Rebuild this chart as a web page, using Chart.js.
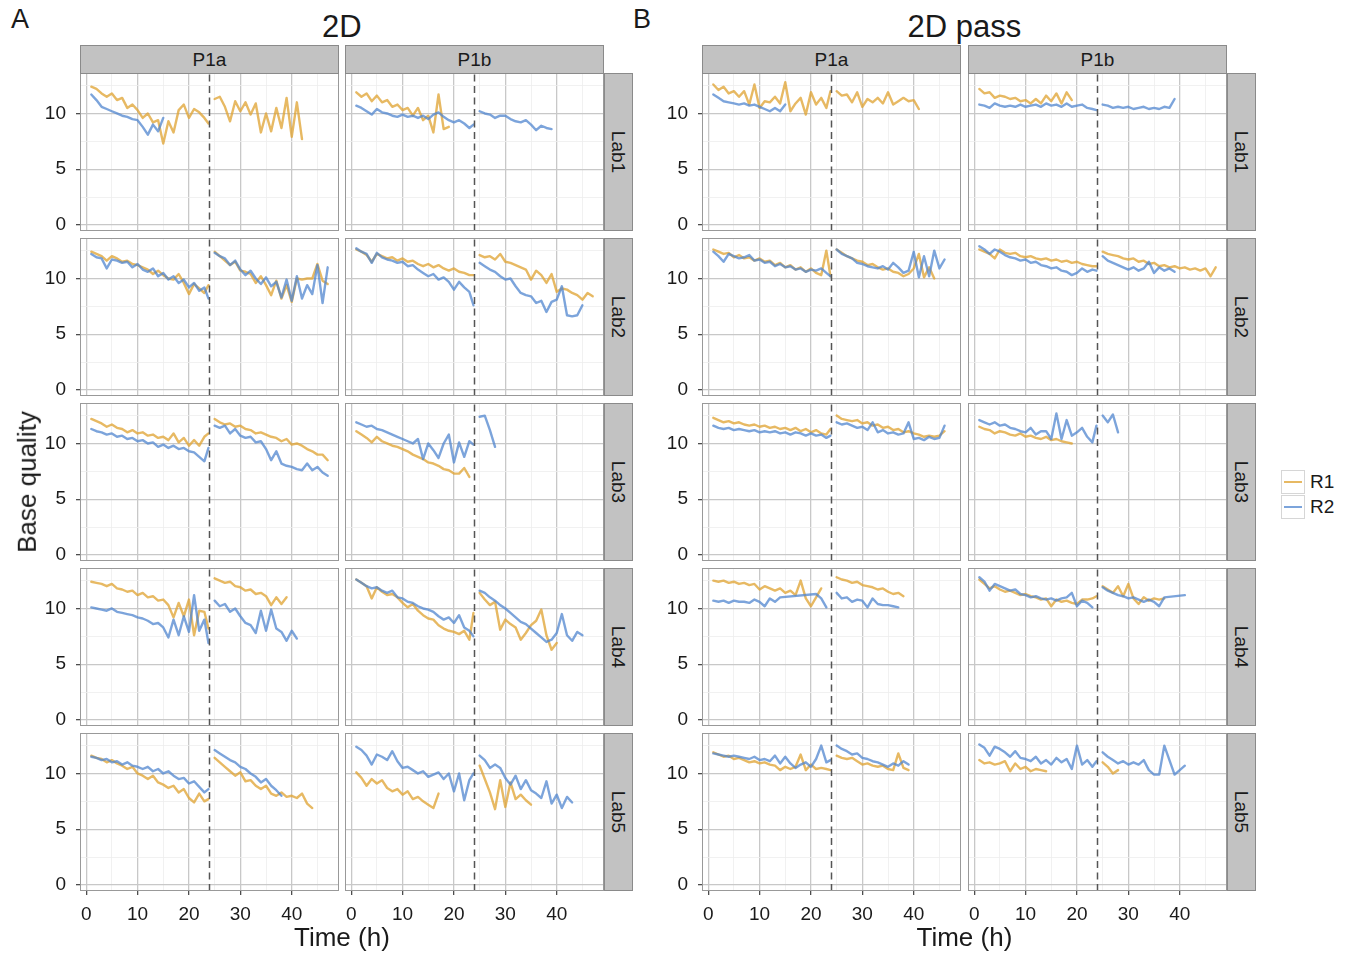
<!DOCTYPE html>
<html>
<head>
<meta charset="utf-8">
<title>Base quality over time</title>
<script src="https://cdn.jsdelivr.net/npm/chart.js@4.4.1/dist/chart.umd.min.js"></script>
<style>
  body { margin: 0; background: #ffffff; font-family: "Liberation Sans", Arial, Helvetica, sans-serif; color: #1a1a1a; }
  #page { position: relative; width: 1349px; height: 953px; overflow: hidden; background: #ffffff; }
  #page canvas { position: absolute; }
  .txt { position: absolute; white-space: nowrap; line-height: 1; }
  .strip { position: absolute; box-sizing: border-box; background: #c2c2c2; border: 1px solid #8a8a8a;
           display: flex; align-items: center; justify-content: center; font-size: 19px; color: #1a1a1a; }
  .strip.v span { display: block; transform: rotate(90deg); white-space: nowrap; }
  .legend-row { position: absolute; left: 1281px; height: 24px; display: flex; align-items: center; }
  .legend-key { width: 24px; height: 24px; box-sizing: border-box; border: 1px solid #d6d6d6; position: relative; background: #fff; }
  .legend-key i { position: absolute; left: 2px; right: 2px; top: 10px; height: 2px; }
  .legend-row span { font-size: 19px; margin-left: 5px; }
</style>
</head>
<body>
<div id="page"></div>
<script>
// ---- sampling grid (hours since start) ----
const hoursBefore = [1, 2, 3, 4, 5, 6, 7, 8, 9, 10, 11, 12, 13, 14, 15, 16, 17, 18, 19, 20, 21, 22, 23, 23.8];
const hoursAfter = [25, 26, 27, 28, 29, 30, 31, 32, 33, 34, 35, 36, 37, 38, 39, 40, 41, 42, 43, 44, 45, 46, 47, 48];
const breakHour = 24;

// ---- categories ----
const panelLetters = ['A', 'B'];
const panelTitles = ['2D', '2D pass'];
const runs = ['P1a', 'P1b'];
const labs = ['Lab1', 'Lab2', 'Lab3', 'Lab4', 'Lab5'];
const readNames = ['R1', 'R2'];

// ---- axis breaks ----
const xBreaks = [0, 5, 10, 15, 20, 25, 30, 35, 40, 45];
const xLabels = [0, 10, 20, 30, 40];
const yBreaks = [0, 2.5, 5, 7.5, 10, 12.5];
const yLabels = [0, 5, 10];
const xRange = [-1.2, 49.2];
const yRange = [-0.54, 13.63];

// ---- base quality per lab: [before restart (hoursBefore), after restart (hoursAfter)] ----
const A_P1a_R1 = [
  [[12.4,12.2,11.8,11.5,11.8,11.2,11.4,10.5,10.8,10.3,9.6,10.0,9.2,9.4,7.3,9.3,8.3,10.3,10.8,9.6,10.4,10.1,9.6,9.1],
   [11.3,11.5,10.6,9.3,11.1,10.2,11.0,9.9,10.9,8.3,10.0,8.4,10.5,8.7,11.4,7.9,11.0,7.7]],
  [[12.4,12.2,12.0,11.6,12.0,11.8,11.5,11.6,11.3,11.2,11.0,10.8,10.4,10.7,10.3,10.0,9.9,10.4,9.6,8.6,9.5,9.1,8.7,9.4],
   [12.4,12.0,11.6,11.2,11.5,10.7,10.6,10.4,9.6,10.2,9.4,8.5,9.8,8.2,9.4,7.9,10.0,9.9,10.0,10.0,11.3,9.8,9.5]],
  [[12.2,12.0,11.8,11.5,11.7,11.4,11.3,11.0,11.2,10.9,11.0,10.7,10.8,10.5,10.6,10.3,10.9,10.1,10.5,9.8,10.3,9.8,10.6,10.9],
   [12.2,11.9,11.7,11.8,11.5,11.6,11.3,11.2,10.9,11.0,10.8,10.6,10.5,10.2,10.4,9.9,10.0,9.8,9.5,9.3,9.0,9.0,8.5]],
  [[12.4,12.3,12.2,12.0,12.2,11.8,11.7,11.5,11.6,11.2,11.4,11.0,11.1,10.7,10.8,10.3,9.2,10.5,9.3,10.8,7.6,9.8,9.7,8.2],
   [12.7,12.5,12.3,12.4,12.0,11.9,11.6,11.7,11.3,11.4,11.1,10.3,11.0,10.4,11.0]],
  [[11.6,11.4,11.3,11.0,11.2,10.9,10.7,10.4,10.6,10.0,9.8,9.5,9.8,9.2,9.0,8.7,8.9,8.3,8.6,7.8,7.4,8.2,7.5,7.7],
   [11.4,11.0,10.6,10.2,9.8,10.1,9.3,9.4,8.9,8.6,8.9,8.2,8.0,8.3,7.9,8.0,7.8,8.2,7.3,6.9]]
];
const A_P1a_R2 = [
  [[11.7,11.2,10.6,10.4,10.2,10.0,9.8,9.7,9.5,9.4,8.8,8.1,9.0,8.4,9.6], []],
  [[12.2,11.9,11.8,10.9,11.7,11.6,11.4,11.5,11.0,11.3,10.8,10.6,10.9,10.2,10.5,9.9,10.2,9.6,9.9,9.2,9.6,8.9,9.2,8.2],
   [12.3,12.0,11.8,11.2,11.6,10.8,10.3,10.7,10.0,9.5,10.1,9.3,9.7,8.3,9.9,8.0,10.2,8.2,9.4,8.6,11.2,7.8,11.0]],
  [[11.3,11.1,11.0,10.8,10.9,10.6,10.7,10.4,10.5,10.2,10.3,10.0,10.1,9.7,9.9,9.6,9.8,9.5,9.6,9.3,9.2,8.8,8.4,9.6],
   [11.6,11.4,11.6,10.9,11.3,10.7,10.5,10.6,10.1,10.2,9.5,8.5,9.3,8.2,8.0,7.9,7.7,7.6,8.2,7.6,7.9,7.4,7.1]],
  [[10.1,10.0,9.9,9.8,10.0,9.7,9.6,9.5,9.4,9.2,9.1,8.9,8.6,8.7,8.3,7.4,9.0,7.6,9.3,7.9,11.2,8.0,9.0,6.9],
   [10.7,10.2,10.4,9.7,10.0,9.3,8.7,8.5,7.8,9.8,8.0,9.9,8.2,7.9,7.1,8.0,7.3]],
  [[11.5,11.4,11.2,11.3,11.0,11.1,10.8,11.0,10.7,10.6,10.4,10.6,10.2,10.4,10.0,10.2,9.8,9.5,9.6,9.1,9.3,8.8,8.3,8.6],
   [12.1,11.8,11.5,11.2,11.0,10.6,10.4,10.0,9.7,9.2,9.5,8.9,8.5,8.0]]
];
const A_P1b_R1 = [
  [[11.9,11.5,11.8,11.1,11.6,11.0,11.2,10.6,10.8,10.3,10.5,9.8,10.5,9.4,9.8,8.3,11.7,8.6,8.8], []],
  [[12.6,12.4,12.1,11.5,12.2,12.0,11.8,11.9,11.6,11.8,11.5,11.6,11.3,11.1,11.3,11.0,11.2,10.9,10.7,10.9,10.6,10.5,10.3,10.3],
   [12.1,11.9,12.0,11.7,12.2,11.5,11.4,11.2,11.0,10.8,9.9,10.7,10.3,9.6,10.4,8.8,9.1,9.0,8.7,8.5,8.1,8.7,8.4]],
  [[11.1,10.8,10.5,10.1,10.6,10.2,10.0,9.8,9.7,9.5,9.3,9.0,8.8,8.6,8.3,8.2,8.0,7.7,7.6,7.3,7.3,7.8,7.0], []],
  [[12.6,12.3,12.0,10.9,11.9,11.5,11.2,11.3,11.0,10.5,10.1,10.4,9.8,9.4,9.1,9.0,8.5,8.2,8.0,7.9,7.7,8.0,7.2,9.6],
   [11.4,10.8,10.3,10.6,8.1,9.0,8.6,8.3,7.2,7.8,8.5,8.9,9.9,7.6,6.3,6.9]],
  [[10.1,9.6,8.9,9.5,9.1,9.4,8.7,8.4,8.6,8.1,8.4,7.7,7.9,7.5,7.2,6.9,8.2],
   [10.7,9.5,8.3,6.8,9.4,7.0,9.2,7.7,8.1,7.6,7.2]]
];
const A_P1b_R2 = [
  [[10.7,10.5,10.2,9.9,10.4,10.1,10.0,9.8,9.7,9.9,9.7,9.8,9.6,9.8,9.5,9.9,10.1,9.7,9.4,9.2,9.4,9.1,8.7,9.0],
   [10.2,10.0,9.9,9.6,9.8,9.8,9.5,9.3,9.2,9.4,9.0,8.5,8.9,8.7,8.6]],
  [[12.7,12.4,12.2,11.4,12.3,11.9,11.7,11.6,11.4,11.5,11.1,11.2,10.8,10.5,10.2,10.4,9.9,10.1,9.7,9.0,9.7,9.2,8.8,7.6],
   [11.4,11.1,10.8,10.6,10.2,9.9,10.0,9.3,8.7,8.5,8.4,7.8,8.0,7.0,7.9,8.1,9.3,6.7,6.6,6.7,7.6]],
  [[11.9,11.7,11.5,11.6,11.3,11.2,11.0,10.8,10.6,10.4,10.2,10.0,10.4,8.6,10.0,9.4,8.7,10.0,10.8,8.3,10.1,8.8,10.2,9.9],
   [12.4,12.5,11.2,9.7]],
  [[12.6,12.3,12.0,11.8,11.9,11.6,11.4,11.6,11.0,10.9,10.6,10.5,10.2,10.0,9.9,9.7,9.3,9.0,9.2,8.7,9.4,8.3,8.0,7.5],
   [11.6,11.4,11.0,10.7,10.3,10.0,9.6,9.2,8.8,8.6,8.2,7.8,7.4,7.0,7.2,7.8,9.5,7.6,7.1,7.9,7.6]],
  [[12.4,12.1,11.6,10.8,11.7,11.5,11.2,12.0,11.1,10.5,10.6,10.3,10.0,10.2,9.7,9.9,10.1,9.5,10.0,8.4,10.0,7.6,9.4,10.0],
   [11.6,11.2,10.5,10.8,10.5,9.6,9.0,9.8,8.6,9.4,8.5,8.2,7.8,9.3,7.3,8.1,6.9,7.9,7.4]]
];
const B_P1a_R1 = [
  [[12.6,12.1,12.4,11.8,12.0,11.5,12.0,10.8,12.6,10.5,11.1,11.0,11.5,10.9,12.8,10.2,10.9,11.4,9.9,11.9,10.8,11.4,10.5,12.0],
   [12.0,11.6,11.7,11.0,11.9,10.6,11.3,11.0,11.4,10.9,11.9,10.8,11.1,11.4,11.1,11.2,10.4]],
  [[12.6,12.4,12.2,12.3,11.9,12.1,11.8,11.9,11.6,11.8,11.5,11.6,11.2,11.4,11.0,11.2,10.8,11.0,10.6,10.9,10.5,10.3,12.5,10.2],
   [12.6,12.3,12.0,11.8,11.6,11.5,11.2,11.3,11.0,10.8,10.9,10.6,10.5,10.2,10.4,10.9,12.2,10.1,11.0,10.0]],
  [[12.3,12.1,11.9,12.0,11.8,11.9,11.7,11.6,11.7,11.5,11.6,11.4,11.5,11.3,11.4,11.2,11.4,11.1,11.3,11.0,11.2,10.9,10.8,11.3],
   [12.5,12.2,12.1,12.0,12.1,11.8,11.9,11.6,11.7,11.4,11.5,11.2,11.3,11.0,11.1,10.9,10.8,10.6,10.7,10.6,10.7,11.1]],
  [[12.5,12.4,12.5,12.3,12.4,12.2,12.3,12.1,12.2,11.7,12.0,11.8,11.6,11.8,11.4,11.6,11.2,12.5,10.9,10.2,11.0,11.8],
   [12.8,12.6,12.5,12.3,12.4,12.1,12.0,11.9,11.7,11.8,11.5,11.3,11.4,11.1]],
  [[11.9,11.7,11.5,11.6,11.3,11.4,11.2,11.0,11.1,10.9,11.0,10.8,10.7,10.3,10.6,10.4,10.6,11.7,10.3,10.8,10.4,10.5,10.4,10.3],
   [11.6,11.4,11.3,11.4,11.1,10.8,10.9,10.7,10.6,10.7,10.4,10.3,11.8,10.5,10.3]]
];
const B_P1a_R2 = [
  [[11.7,11.4,11.1,11.0,10.9,10.8,10.9,10.7,10.8,10.6,10.4,10.2,10.5,10.2,10.8], []],
  [[12.4,12.0,11.5,12.2,12.0,11.8,11.9,12.1,11.6,11.7,11.4,11.5,11.1,11.3,11.0,11.1,10.8,10.9,10.6,10.8,10.7,10.9,10.5,10.2],
   [12.6,12.2,12.0,11.8,11.4,11.3,11.1,11.0,10.9,11.1,10.8,11.4,11.0,10.5,10.7,12.4,10.1,12.0,10.2,12.5,10.9,11.7]],
  [[11.6,11.4,11.3,11.4,11.2,11.3,11.2,11.1,11.2,11.0,11.1,11.0,11.1,10.9,11.0,10.8,11.0,10.9,10.7,10.9,10.7,10.8,10.5,10.7],
   [11.9,11.7,11.8,11.6,11.4,11.5,11.2,11.9,11.0,11.2,10.9,11.0,10.8,10.9,11.9,10.4,10.5,10.3,10.6,10.4,10.5,11.6]],
  [[10.7,10.6,10.7,10.5,10.7,10.6,10.6,10.5,10.8,10.6,10.2,10.9,10.6,11.0,null,null,null,null,null,null,11.3,10.9,10.1],
   [11.4,10.9,11.0,10.6,10.8,10.7,10.1,10.9,10.4,10.3,10.3,10.2,10.1]],
  [[11.8,11.7,11.6,11.5,11.6,11.5,11.4,11.3,11.5,11.2,11.3,11.1,11.6,10.9,11.5,10.9,10.5,10.8,11.0,10.6,11.3,12.5,11.0,11.2],
   [12.5,12.2,12.0,11.7,11.8,11.4,11.3,11.1,11.0,10.8,10.6,10.9,10.7,11.1,10.8]]
];
const B_P1b_R1 = [
  [[12.2,11.8,11.9,11.4,11.6,11.5,11.3,11.4,11.1,11.2,10.9,11.3,10.9,11.6,11.1,11.8,10.9,11.9,11.2], []],
  [[12.6,12.4,12.2,11.8,12.6,12.3,12.2,12.3,12.0,11.9,12.0,11.8,11.7,11.8,11.6,11.7,11.5,11.6,11.4,11.5,11.3,11.2,11.1,11.1],
   [12.4,12.2,12.1,12.0,11.8,11.7,11.8,11.5,11.6,11.3,11.4,11.1,11.2,11.0,11.1,10.9,11.0,10.8,10.9,10.7,10.9,10.2,11.0]],
  [[11.5,11.3,11.2,10.9,11.1,11.0,10.8,10.7,10.9,10.6,10.7,10.5,10.4,10.6,10.3,10.4,10.2,10.1,10.0], []],
  [[12.6,12.2,11.8,12.0,11.7,11.5,11.6,11.4,11.2,11.3,11.1,11.0,10.8,10.9,10.2,10.8,10.6,10.7,10.5,10.4,10.8,10.8,10.9,11.1],
   [12.0,11.7,11.4,12.0,11.1,12.2,10.9,10.4,11.0,10.7,10.9,10.8,10.9]],
  [[11.2,10.9,11.0,10.8,10.9,11.1,10.2,10.9,10.4,10.6,10.2,10.4,10.3,10.2],
   [11.0,10.6,10.0,10.3]]
];
const B_P1b_R2 = [
  [[10.8,10.7,10.5,10.9,10.7,10.6,10.7,10.6,10.8,10.6,10.7,10.8,10.6,10.9,10.7,10.8,10.6,10.9,10.6,10.7,10.8,10.5,10.4,10.3],
   [10.8,10.7,10.5,10.6,10.5,10.6,10.4,10.5,10.6,10.4,10.5,10.4,10.6,10.5,11.3]],
  [[12.9,12.6,12.2,12.6,12.4,12.1,11.9,11.8,11.6,11.7,11.4,11.5,11.2,11.1,10.9,11.0,10.7,10.6,10.3,10.5,10.9,10.6,10.8,10.7],
   [12.0,11.6,11.4,11.2,11.0,10.8,11.0,10.7,10.9,11.5,10.5,11.0,10.7,10.9,10.6]],
  [[12.1,11.9,11.7,11.9,11.6,11.7,11.4,11.3,11.1,11.0,11.4,10.8,11.1,11.1,10.4,12.7,10.4,12.1,10.7,11.0,11.4,10.6,10.1,11.6],
   [12.5,11.9,12.6,11.0]],
  [[12.8,12.4,11.6,12.2,12.0,11.8,11.6,11.7,11.3,11.2,11.0,11.1,10.9,10.8,10.9,10.7,10.9,11.0,11.4,10.2,10.7,10.5,10.1],
   [11.9,11.6,11.4,11.2,11.1,10.9,11.0,10.8,10.6,10.8,10.6,10.2,11.0,null,null,null,11.2]],
  [[12.6,12.3,11.6,12.4,12.2,11.9,11.5,12.0,11.4,11.3,11.1,11.5,10.9,11.2,10.8,11.4,11.0,11.3,10.4,12.5,10.8,11.2,10.6,11.1],
   [11.9,11.5,11.2,10.9,11.1,10.8,11.0,10.8,11.2,10.3,9.9,9.9,12.5,null,9.9,null,10.7]]
];

// ---- look-up table for the facets ----
const panelData = [
  { P1a: [A_P1a_R1, A_P1a_R2], P1b: [A_P1b_R1, A_P1b_R2] },
  { P1a: [B_P1a_R1, B_P1a_R2], P1b: [B_P1b_R1, B_P1b_R2] }
];

// ---- styling ----
const readColors = ['rgba(223,163,50,0.76)', 'rgba(78,132,206,0.74)'];
const gridMajor = '#c8c8c8';
const gridMinor = '#ededed';
const textColor = '#1a1a1a';

// ---- page layout (px) ----
const colLeft = [[80, 345], [702, 968]];
const rowTop = [73, 238, 403, 568, 733];
const PW = 259, PH = 158;
const PADL = 50, PADB = 38;

Chart.defaults.font.family = '"Liberation Sans", Arial, Helvetica, sans-serif';
Chart.defaults.color = textColor;

const page = document.getElementById('page');

function addText(txt, css) {
  const d = document.createElement('div');
  d.className = 'txt';
  d.textContent = txt;
  Object.assign(d.style, css);
  page.appendChild(d);
  return d;
}

function toPoints(vals, hrs) {
  const pts = [];
  vals.forEach((v, i) => { if (v !== null && v !== undefined) pts.push({ x: hrs[i], y: v }); });
  return pts;
}

const panelFrame = {
  id: 'panelFrame',
  afterDraw(chart) {
    const { ctx, chartArea: a } = chart;
    ctx.save();
    ctx.strokeStyle = '#999999';
    ctx.lineWidth = 1;
    ctx.strokeRect(a.left + 0.5, a.top + 0.5, a.right - a.left - 1, a.bottom - a.top - 1);
    ctx.restore();
  }
};

function isMajor(v, labels) { return labels.includes(v); }

// fixed axis sizes so every panel's plotting area lines up exactly
function fixSize(s, prop, size) {
  s[prop] = size;
  s.paddingTop = 0; s.paddingBottom = 0; s.paddingLeft = 0; s.paddingRight = 0;
}

function makeFacet(p, c, r) {
  const showY = c === 0;
  const showX = r === labs.length - 1;
  const canvas = document.createElement('canvas');
  const w = PW + (showY ? PADL : 0);
  const h = PH + (showX ? PADB : 0);
  canvas.width = w;
  canvas.height = h;
  canvas.style.left = (colLeft[p][c] - (showY ? PADL : 0)) + 'px';
  canvas.style.top = rowTop[r] + 'px';
  page.appendChild(canvas);

  const [r1, r2] = panelData[p][runs[c]];
  const lineDs = (vals, hrs, color) => ({
    type: 'line', data: toPoints(vals, hrs), borderColor: color, borderWidth: 2.4,
    pointRadius: 0, tension: 0, spanGaps: true, borderJoinStyle: 'round', borderCapStyle: 'round'
  });

  const datasets = [
    { type: 'line', data: [{ x: breakHour, y: yRange[0] }, { x: breakHour, y: yRange[1] }],
      borderColor: '#555555', borderWidth: 1.5, borderDash: [7, 4.5], pointRadius: 0 },
    lineDs(r2[r][0], hoursBefore, readColors[1]),
    lineDs(r2[r][1], hoursAfter, readColors[1]),
    lineDs(r1[r][0], hoursBefore, readColors[0]),
    lineDs(r1[r][1], hoursAfter, readColors[0])
  ];

  new Chart(canvas, {
    type: 'line',
    data: { datasets },
    plugins: [panelFrame],
    options: {
      responsive: false,
      animation: false,
      events: [],
      layout: { padding: 0, autoPadding: false },
      plugins: { legend: { display: false }, tooltip: { enabled: false } },
      scales: {
        x: {
          type: 'linear', min: xRange[0], max: xRange[1],
          afterBuildTicks: s => { s.ticks = xBreaks.map(v => ({ value: v })); },
          afterFit: s => fixSize(s, 'height', showX ? PADB : 0),
          border: { display: false },
          grid: {
            color: ctx => isMajor(ctx.tick.value, xLabels) ? gridMajor : gridMinor,
            lineWidth: ctx => isMajor(ctx.tick.value, xLabels) ? 1.3 : 0.8,
            drawTicks: showX, tickLength: 4,
            tickColor: ctx => isMajor(ctx.tick.value, xLabels) ? '#4d4d4d' : 'rgba(0,0,0,0)'
          },
          ticks: {
            display: showX, autoSkip: false, maxRotation: 0, minRotation: 0, padding: 8,
            font: { size: 19 }, color: textColor,
            callback: v => xLabels.includes(v) ? String(v) : ''
          }
        },
        y: {
          type: 'linear', min: yRange[0], max: yRange[1],
          afterBuildTicks: s => { s.ticks = yBreaks.map(v => ({ value: v })); },
          afterFit: s => fixSize(s, 'width', showY ? PADL : 0),
          border: { display: false },
          grid: {
            color: ctx => isMajor(ctx.tick.value, yLabels) ? gridMajor : gridMinor,
            lineWidth: ctx => isMajor(ctx.tick.value, yLabels) ? 1.3 : 0.8,
            drawTicks: showY, tickLength: 4,
            tickColor: ctx => isMajor(ctx.tick.value, yLabels) ? '#4d4d4d' : 'rgba(0,0,0,0)'
          },
          ticks: {
            display: showY, autoSkip: false, padding: 10,
            font: { size: 19 }, color: textColor,
            callback: v => yLabels.includes(v) ? String(v) : ''
          }
        }
      }
    }
  });
}

// facets, strips and panel headings
panelLetters.forEach((letter, p) => {
  runs.forEach((run, c) => {
    labs.forEach((lab, r) => makeFacet(p, c, r));
    const s = document.createElement('div');
    s.className = 'strip';
    Object.assign(s.style, { left: colLeft[p][c] + 'px', top: '45px', width: PW + 'px', height: '29px' });
    s.textContent = run;
    page.appendChild(s);
  });
  labs.forEach((lab, r) => {
    const s = document.createElement('div');
    s.className = 'strip v';
    Object.assign(s.style, { left: (colLeft[p][1] + PW) + 'px', top: rowTop[r] + 'px', width: '29px', height: PH + 'px' });
    const sp = document.createElement('span');
    sp.textContent = lab;
    s.appendChild(sp);
    page.appendChild(s);
  });
  const left = colLeft[p][0], right = colLeft[p][1] + PW;
  const mid = (left + right) / 2;
  addText(letter, { left: (p === 0 ? 11 : 633) + 'px', top: '6px', fontSize: '27px' });
  const t = addText(panelTitles[p], { top: '11px', fontSize: '31px' });
  t.style.left = (mid - t.offsetWidth / 2) + 'px';
  const xt = addText('Time (h)', { top: '924px', fontSize: '26px' });
  xt.style.left = (mid - xt.offsetWidth / 2) + 'px';
});

// y-axis title
const yt = addText('Base quality', { fontSize: '26px' });
yt.style.left = (27 - yt.offsetWidth / 2) + 'px';
yt.style.top = (482 - yt.offsetHeight / 2) + 'px';
yt.style.transform = 'rotate(-90deg)';

// legend
readNames.forEach((name, i) => {
  const row = document.createElement('div');
  row.className = 'legend-row';
  row.style.top = (470 + i * 25) + 'px';
  const key = document.createElement('div');
  key.className = 'legend-key';
  const ln = document.createElement('i');
  ln.style.background = readColors[i];
  key.appendChild(ln);
  const lab = document.createElement('span');
  lab.textContent = name;
  row.appendChild(key);
  row.appendChild(lab);
  page.appendChild(row);
});
</script>
</body>
</html>
